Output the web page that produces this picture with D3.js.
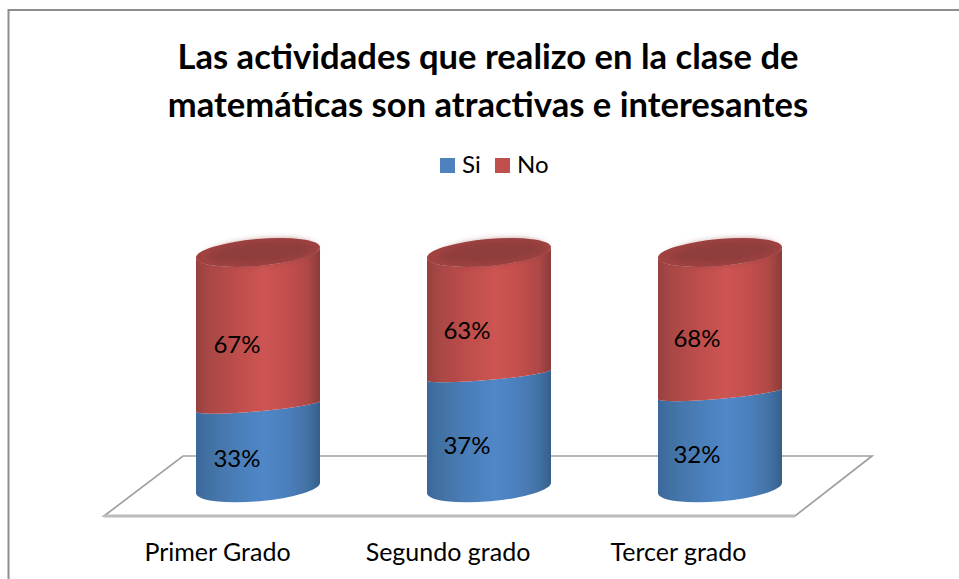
<!DOCTYPE html>
<html><head><meta charset="utf-8">
<script src="https://cdn.jsdelivr.net/npm/d3@7/dist/d3.min.js"></script>
<style>html,body{margin:0;padding:0;background:#fff}svg{display:block}text{font-family:Lato,"Open Sans",sans-serif;fill:#000}</style>
</head><body><script>
const categories = ["Primer Grado", "Segundo grado", "Tercer grado"];
const siLabels = ["33%", "37%", "32%"];
const noLabels = ["67%", "63%", "68%"];
// drawn height of the blue segment (% of the cylinder)
const siDrawn = [34.7, 48, 40];
const titleLines = ["Las actividades que realizo en la clase de", "matemáticas son atractivas e interesantes"];
const legendItems = ["Si", "No"];
const W = 959, H = 579;
const svg = d3.select("body").append("svg").attr("width", W).attr("height", H);
const defs = svg.append("defs");
function grad(id, stops){
  const g = defs.append("linearGradient").attr("id", id);
  stops.forEach(s => g.append("stop").attr("offset", s[0]).attr("stop-color", s[1]));
}
grad("gNo", [[0,"#97413f"],[.1,"#a84745"],[.35,"#c04f4d"],[.55,"#cd5452"],[.75,"#c24f4d"],[.9,"#ae4846"],[1,"#8a3c3a"]]);
grad("gSi", [[0,"#3b689c"],[.1,"#4271a3"],[.35,"#4b7fba"],[.55,"#5187c8"],[.75,"#4b7ebb"],[.9,"#4272a4"],[1,"#365f8c"]]);
defs.append("filter").attr("id","soft").attr("x","-5%").attr("y","-5%").attr("width","110%").attr("height","110%")
  .append("feGaussianBlur").attr("stdDeviation",0.7);
defs.append("filter").attr("id","soft2").attr("x","-20%").attr("y","-40%").attr("width","140%").attr("height","180%")
  .append("feGaussianBlur").attr("stdDeviation",3.5);

// chart frame (only top and left edges fall inside the picture)
svg.append("path").attr("d", d3.line()([[8.5,579],[8.5,10],[959,10]])).attr("fill","none").attr("stroke","#8e8e8e").attr("stroke-width",2);

// title
svg.append("g").selectAll("text").data(titleLines).join("text")
  .attr("x",488).attr("y",(d,i)=>69+i*48).attr("text-anchor","middle")
  .attr("font-size",34.6).attr("font-weight",700).text(d=>d);

// legend
const legendX = d3.scaleOrdinal().domain(legendItems).range([440,495]);
const legendC = d3.scaleOrdinal().domain(legendItems).range(["#4f81bd","#c0504d"]);
const lg = svg.append("g").selectAll("g").data(legendItems).join("g").attr("transform",d=>`translate(${legendX(d)},158)`);
lg.append("rect").attr("width",15).attr("height",15).attr("fill",d=>legendC(d));
lg.append("text").attr("x",22).attr("y",15).attr("font-size",24).text(d=>d);

// scales
const x = d3.scalePoint().domain(categories).range([258,720]);
const y = d3.scaleLinear().domain([0,100]).range([488,252.5]);
const rx = 62.25, ry = 13.5, ryJoin = 5, tilt = 5.5, halfW = 62;

// floor
const floorX = d3.scaleLinear().domain([0,1]).range([104,795]);
const floorSkew = 77, floorFront = 516, floorBack = 456;
svg.append("path")
  .attr("d", d3.line()([[floorX(0),floorFront],[floorX(1),floorFront],[floorX(1)+floorSkew,floorBack],[floorX(0)+79,floorBack]])+"Z")
  .attr("fill","#fff").attr("stroke","#a0a0a0").attr("stroke-width",1.7);
svg.append("path").attr("d", d3.line()([[floorX(0),floorFront],[floorX(1),floorFront]]))
  .attr("stroke","#bcbcbc").attr("stroke-width",3);

// cylinder segment between two values: both edges bow to the front
function seg(cx, a, b, ryA, ryB){
  const ya = y(a), yb = y(b);
  return `M${cx-halfW},${ya+tilt}A${rx},${ryA} -5 0 0 ${cx+halfW},${ya-tilt}`+
         `L${cx+halfW},${yb-tilt}A${rx},${ryB} -5 0 1 ${cx-halfW},${yb+tilt}Z`;
}
const cyl = svg.append("g").selectAll("g").data(categories).join("g").attr("filter","url(#soft)");
cyl.append("path").attr("d",(c,i)=>seg(x(c),0,siDrawn[i],ry,ryJoin)).attr("fill","url(#gSi)");
cyl.append("path").attr("d",(c,i)=>seg(x(c),siDrawn[i],100,ryJoin,ry)).attr("fill","url(#gNo)");
// top cap
cyl.append("ellipse").attr("cx",c=>x(c)).attr("cy",y(100)).attr("rx",rx).attr("ry",ry)
  .attr("transform",c=>`rotate(-5 ${x(c)} ${y(100)})`).attr("fill","#a14341");
cyl.append("ellipse").attr("cx",c=>x(c)+3).attr("cy",y(100)).attr("rx",rx-9).attr("ry",ry-2.5)
  .attr("transform",c=>`rotate(-5 ${x(c)} ${y(100)})`).attr("fill","#903e3c").attr("filter","url(#soft2)");

// value labels
const labelX = d3.scalePoint().domain(categories).range([237,697]);
const siLabelY = d3.scaleOrdinal().domain(categories).range([467,454,463]);
const noLabelY = d3.scaleOrdinal().domain(categories).range([353,339,347]);
svg.append("g").selectAll("text").data(categories).join("text")
  .attr("x",c=>labelX(c)).attr("y",c=>siLabelY(c)).attr("text-anchor","middle").attr("font-size",24)
  .text((c,i)=>siLabels[i]);
svg.append("g").selectAll("text").data(categories).join("text")
  .attr("x",c=>labelX(c)).attr("y",c=>noLabelY(c)).attr("text-anchor","middle").attr("font-size",24)
  .text((c,i)=>noLabels[i]);

// category axis
const axisX = d3.scalePoint().domain(categories).range([217,678]);
const ax = svg.append("g").attr("transform","translate(0,561)").call(d3.axisBottom(axisX).tickSize(0).tickPadding(0));
ax.select(".domain").remove();
ax.selectAll("text").attr("dy",0).attr("y",0).attr("font-size",25).attr("font-family",'Lato,"Open Sans",sans-serif');
</script></body></html>
